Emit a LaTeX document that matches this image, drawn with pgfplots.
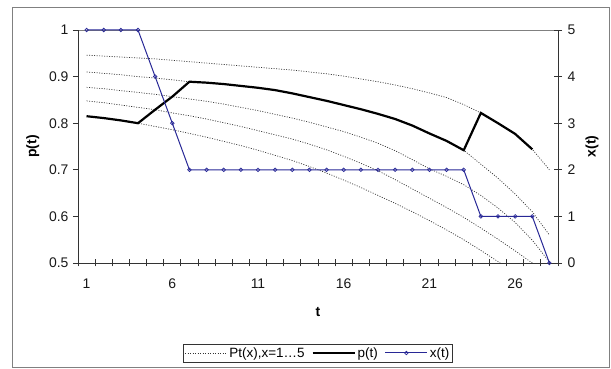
\documentclass[border=0pt]{standalone}
\usepackage{fontspec}
\setmainfont{Liberation Sans}
\usepackage{pgfplots}
\pgfplotsset{compat=1.18}
\usepackage{pgfplotstable}
\definecolor{xblue}{RGB}{40,40,150}
\pgfplotstableread{
t c1 c2 c3 c4 c5
1 0.946 0.910 0.877 0.848 0.815
2 0.944 0.907 0.874 0.844 0.811
3 0.942 0.904 0.870 0.839 0.806
4 0.940 0.900 0.866 0.834 0.800
5 0.938 0.897 0.862 0.829 0.793
6 0.935 0.893 0.857 0.822 0.786
7 0.932 0.889 0.852 0.816 0.778
8 0.929 0.887 0.847 0.809 0.770
9 0.926 0.884 0.841 0.801 0.761
10 0.923 0.880 0.834 0.793 0.752
11 0.920 0.876 0.827 0.784 0.742
12 0.917 0.871 0.819 0.775 0.731
13 0.914 0.864 0.811 0.766 0.720
14 0.910 0.856 0.802 0.755 0.707
15 0.906 0.848 0.792 0.743 0.693
16 0.901 0.839 0.782 0.729 0.678
17 0.895 0.830 0.770 0.714 0.662
18 0.889 0.820 0.757 0.698 0.645
19 0.882 0.809 0.741 0.679 0.628
20 0.874 0.795 0.722 0.659 0.610
21 0.865 0.778 0.702 0.639 0.591
22 0.855 0.762 0.686 0.619 0.571
23 0.840 0.742 0.668 0.598 0.550
24 0.822 0.712 0.645 0.575 0.527
25 0.800 0.682 0.618 0.551 0.503
26 0.777 0.648 0.587 0.526 0.478
27 0.744 0.610 0.549 0.500 0.452
28 0.700 0.560 0.502 0.472 0.425
}\curves
\pgfplotstableread{
t p
1 0.815
2 0.811
3 0.806
4 0.800
5 0.829
6 0.857
7 0.889
8 0.887
9 0.884
10 0.880
11 0.876
12 0.871
13 0.864
14 0.856
15 0.848
16 0.839
17 0.830
18 0.820
19 0.809
20 0.795
21 0.778
22 0.762
23 0.742
24 0.822
25 0.800
26 0.777
27 0.744
}\ptab
\pgfplotstableread{
t x
1 5
2 5
3 5
4 5
5 4
6 3
7 2
8 2
9 2
10 2
11 2
12 2
13 2
14 2
15 2
16 2
17 2
18 2
19 2
20 2
21 2
22 2
23 2
24 1
25 1
26 1
27 1
28 0
}\xtab
\tikzset{dotcurve/.style={black!80, line width=0.7bp, dash pattern=on 1bp off 1.5bp}}
\pgfplotsset{
  common/.style={
    at={(78bp,106bp)}, anchor=south west, scale only axis,
    width=480bp, height=233bp, xmin=0.5, xmax=28.5,
    tick label style={font=\fontsize{14}{16}\selectfont, black!90},
    /pgf/number format/assume math mode=true,
    label style={font=\fontsize{14}{16}\selectfont\bfseries},
    axis line style={black!80, line width=0.9bp},
    every tick/.style={black!80, line width=0.9bp},
    legend image code/.code={\draw[mark repeat=2,mark phase=2,#1] plot coordinates {(0bp,0bp) (21bp,0bp) (42bp,0bp)};},
  }
}
\begin{document}
\begin{tikzpicture}
\path[use as bounding box] (0bp,0bp) rectangle (611bp,369bp);
\draw[black!50, line width=1.5bp] (12.3bp,1.5bp) rectangle (609.5bp,361.7bp);
\draw[black!50, line width=0.8bp] (78bp,339bp) -- (558bp,339bp);
\begin{axis}[common,
  ymin=0.5, ymax=1,
  axis x line*=bottom, axis y line*=left,
  xtick={1,6,11,16,21,26}, minor xtick={0.5,1.5,...,28.5},
  major x tick style={draw=none},
  minor x tick style={black!80, line width=0.9bp},
  xtick align=center, minor tick length=7bp,
  ytick={0.5,0.6,0.7,0.8,0.9,1}, ytick align=outside, major tick length=5bp,
  xticklabel style={yshift=-10bp},
  yticklabel style={xshift=-1bp},
  xlabel={t}, ylabel={p(t)},
  xlabel style={at={(axis description cs:0.5,-0.21)}, anchor=center},
  ylabel style={at={(axis description cs:-0.094,0.5)}, anchor=center, rotate=0},
  legend style={at={(axis description cs:0.5,-0.386)}, anchor=center,
    draw=black!80, line width=0.6bp, fill=white,
    font=\fontsize{13.5}{15}\selectfont, legend columns=3,
    inner sep=1.5bp,
    /tikz/every even column/.append style={column sep=5bp}},
]
\addplot[dotcurve] table[x=t,y=c1]{\curves};
\addlegendentry{Pt(x),x=1…5}
\addplot[dotcurve, forget plot] table[x=t,y=c2]{\curves};
\addplot[dotcurve, forget plot] table[x=t,y=c3]{\curves};
\addplot[dotcurve, forget plot] table[x=t,y=c4]{\curves};
\addplot[dotcurve, forget plot] table[x=t,y=c5]{\curves};
\addplot[black, line width=2.2bp] table[x=t,y=p]{\ptab};
\addlegendentry{p(t)}
\addlegendimage{xblue, line width=1bp, mark=o, mark size=1.8bp, mark options={line width=0.7bp}}
\addlegendentry{x(t)}
\end{axis}
\begin{axis}[common,
  ymin=0, ymax=5,
  axis x line=none, axis y line*=right,
  ytick={0,1,2,3,4,5}, ytick align=center, major tick length=8bp,
  yticklabel style={xshift=2bp},
  ylabel={x(t)},
  ylabel style={at={(axis description cs:1.071,0.5)}, anchor=center, rotate=0},
]
\addplot[xblue, line width=1bp, mark=o, mark size=1.8bp, mark options={line width=0.7bp}] table[x=t,y=x]{\xtab};
\end{axis}
\end{tikzpicture}
\end{document}
